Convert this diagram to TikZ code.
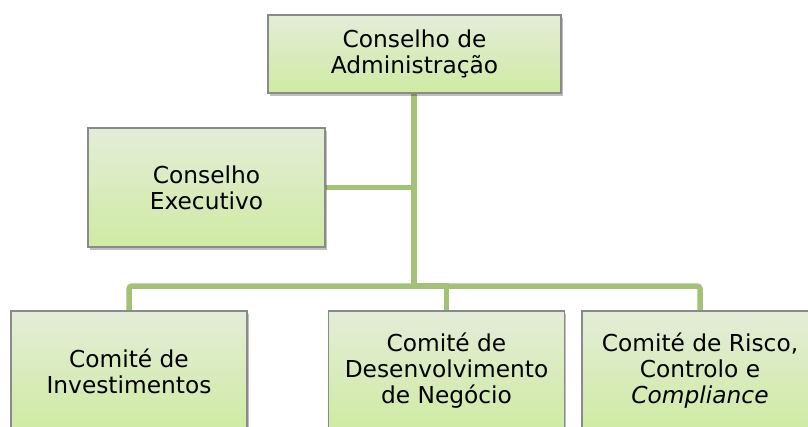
\documentclass[tikz,border=0pt]{standalone}
\usepackage{fontspec}
\setmainfont{DejaVu Sans}
\usetikzlibrary{shadows}
\definecolor{boxtop}{HTML}{E4ECD8}
\definecolor{boxbot}{HTML}{CFEBA3}
\definecolor{boxline}{HTML}{8A8A8A}
\definecolor{conn}{HTML}{A3C277}
\tikzset{
  orgbox/.style={draw=boxline, line width=1.1pt, top color=boxtop, bottom color=boxbot,
    align=center, inner sep=0pt, font=\fontsize{23.3}{26}\selectfont,
    drop shadow={shadow xshift=1.5pt, shadow yshift=-3pt, opacity=0.25, fill=black}},
  link/.style={draw=conn, line width=5.5pt}
}
\begin{document}
\begin{tikzpicture}[x=1pt, y=-1pt]
\useasboundingbox (0,0) rectangle (808,426);
\clip (0,0) rectangle (808,426);
\coordinate (j) at (414,286);
\draw[link] (414,93) -- (j);
\draw[link] (325,187.5) -- (414,187.5);
\draw[link, rounded corners=3pt] (129,313) |- (j) -| (700,313);
\draw[link] (j) -| (446.5,313);
\node[orgbox, minimum width=293pt, minimum height=78pt] (board) at (414.5,54) {Conselho de\\Administração};
\node[orgbox, minimum width=237pt, minimum height=119pt] (exec) at (206.5,187.5) {Conselho\\Executivo};
\node[orgbox, minimum width=236pt, minimum height=120pt] (inv) at (129,371) {Comité de\\Investimentos};
\node[orgbox, minimum width=236pt, minimum height=120pt] (dev) at (446.5,371) {Comité de\\Desenvolvimento\\de Negócio};
\node[orgbox, minimum width=236pt, minimum height=120pt] (risk) at (700,371) {Comité de Risco,\\Controlo e\\\textit{Compliance}};
\end{tikzpicture}
\end{document}
